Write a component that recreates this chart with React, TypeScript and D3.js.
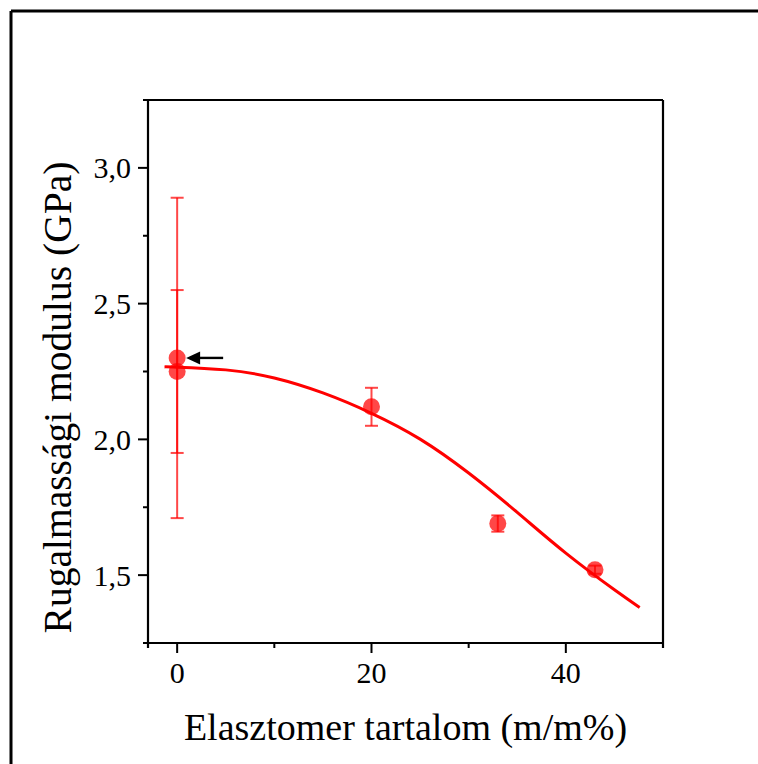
import React from "react";
import * as d3 from "d3";

// Measured points: elastomer content (m/m%) vs. elastic modulus (GPa) with standard deviation
const contentX = [0, 0, 20, 33, 43];
const modulusY = [2.3, 2.25, 2.12, 1.69, 1.52];
const modulusErr = [0.59, 0.3, 0.07, 0.03, 0.015];

// Fitted trend curve
const fitX = [-1.3, 0, 5, 10, 15, 20, 25, 30, 35, 40, 45, 47.6];
const fitY = [2.267, 2.266, 2.256, 2.226, 2.171, 2.096, 2.001, 1.876, 1.731, 1.581, 1.446, 1.381];

const xMajorTicks = [0, 20, 40];
const xMinorTicks = [10, 30, 50];
const yMajorTicks = [1.5, 2.0, 2.5, 3.0];
const yMinorTicks = [1.25, 1.75, 2.25, 2.75];

const xTitle = "Elasztomer tartalom (m/m%)";
const yTitle = "Rugalmassági modulus (GPa)";

const W = 758;
const H = 764;
const left = 148;
const right = 663;
const top = 100;
const bottom = 643;
const serif = "'Liberation Serif', 'Times New Roman', 'DejaVu Serif', serif";

export default function App() {
  const x = d3.scaleLinear().domain([-3, 50]).range([left, right]);
  const y = d3.scaleLinear().domain([1.25, 3.25]).range([bottom, top]);

  const fitPts: [number, number][] = fitX.map((v, i) => [v, fitY[i]]);
  const line = d3
    .line<[number, number]>()
    .x((d) => x(d[0]))
    .y((d) => y(d[1]))
    .curve(d3.curveNatural);

  const fmt = (v: number) => v.toFixed(1).replace(".", ",");
  const ptColor = "rgba(255,0,0,0.72)";
  const capHalf = 6.5;

  const arrowY = y(modulusY[0]);
  const arrowTip = x(0) + 9;
  const arrowEnd = x(0) + 46;

  const txt = { fontFamily: serif } as React.CSSProperties;

  return (
    <svg
      width={W}
      height={H}
      style={{ position: "absolute", left: 0, top: 0, background: "#fff" }}
    >
      <rect x={0} y={0} width={W} height={H} fill="#fff" />
      {/* outer frame */}
      <line x1={11} y1={11} x2={W} y2={11} stroke="#000" strokeWidth={3} />
      <line x1={11} y1={11} x2={11} y2={H} stroke="#000" strokeWidth={3} />

      {/* axes box */}
      <g stroke="#000" strokeWidth={2.2} fill="none">
        <line x1={left - 5} y1={top} x2={right} y2={top} />
        <line x1={left - 5} y1={bottom} x2={right} y2={bottom} />
        <line x1={left} y1={top} x2={left} y2={bottom + 5} />
        <line x1={right} y1={top} x2={right} y2={bottom + 5} />
      </g>

      {/* ticks */}
      <g stroke="#000" strokeWidth={2}>
        {yMajorTicks.map((t) => (
          <line key={"ym" + t} x1={left - 10} x2={left} y1={y(t)} y2={y(t)} />
        ))}
        {yMinorTicks.map((t) => (
          <line key={"yn" + t} x1={left - 5} x2={left} y1={y(t)} y2={y(t)} />
        ))}
        {xMajorTicks.map((t) => (
          <line key={"xm" + t} x1={x(t)} x2={x(t)} y1={bottom} y2={bottom + 10} />
        ))}
        {xMinorTicks.map((t) => (
          <line key={"xn" + t} x1={x(t)} x2={x(t)} y1={bottom} y2={bottom + 5} />
        ))}
      </g>

      <g fill="#000">
        {yMajorTicks.map((t) => (
          <text key={"yl" + t} x={left - 17} y={y(t)} dy="0.35em" textAnchor="end" fontSize={30} style={txt}>
            {fmt(t)}
          </text>
        ))}
        {xMajorTicks.map((t) => (
          <text key={"xl" + t} x={x(t)} y={bottom + 40} textAnchor="middle" fontSize={30} style={txt}>
            {t}
          </text>
        ))}
      </g>

      {/* axis titles */}
      <text x={(left + right) / 2} y={740} fontSize={38} textAnchor="middle" fill="#000" style={txt}>
        {xTitle}
      </text>
      <text
        transform={`translate(71, ${(top + bottom) / 2 + 26}) rotate(-90)`}
        fontSize={39.5}
        textAnchor="middle"
        fill="#000"
        style={txt}
      >
        {yTitle}
      </text>

      {/* error bars */}
      <g stroke={ptColor} strokeWidth={2}>
        {contentX.map((cx, i) => {
          const px = x(cx);
          const y0 = y(modulusY[i] - modulusErr[i]);
          const y1 = y(modulusY[i] + modulusErr[i]);
          return (
            <g key={"eb" + i}>
              <line x1={px} x2={px} y1={y0} y2={y1} />
              <line x1={px - capHalf} x2={px + capHalf} y1={y0} y2={y0} />
              <line x1={px - capHalf} x2={px + capHalf} y1={y1} y2={y1} />
            </g>
          );
        })}
      </g>

      {/* markers */}
      {contentX.map((cx, i) => (
        <circle key={"pt" + i} cx={x(cx)} cy={y(modulusY[i])} r={8.5} fill={ptColor} />
      ))}

      {/* fitted curve */}
      <path d={line(fitPts) || ""} fill="none" stroke="#ff0000" strokeWidth={3} />

      {/* arrow pointing at the first point */}
      <line x1={arrowTip + 10} x2={arrowEnd} y1={arrowY} y2={arrowY} stroke="#000" strokeWidth={2.4} />
      <path
        d={`M${arrowTip},${arrowY} L${arrowTip + 14},${arrowY - 6.5} L${arrowTip + 14},${arrowY + 6.5} Z`}
        fill="#000"
      />
    </svg>
  );
}
